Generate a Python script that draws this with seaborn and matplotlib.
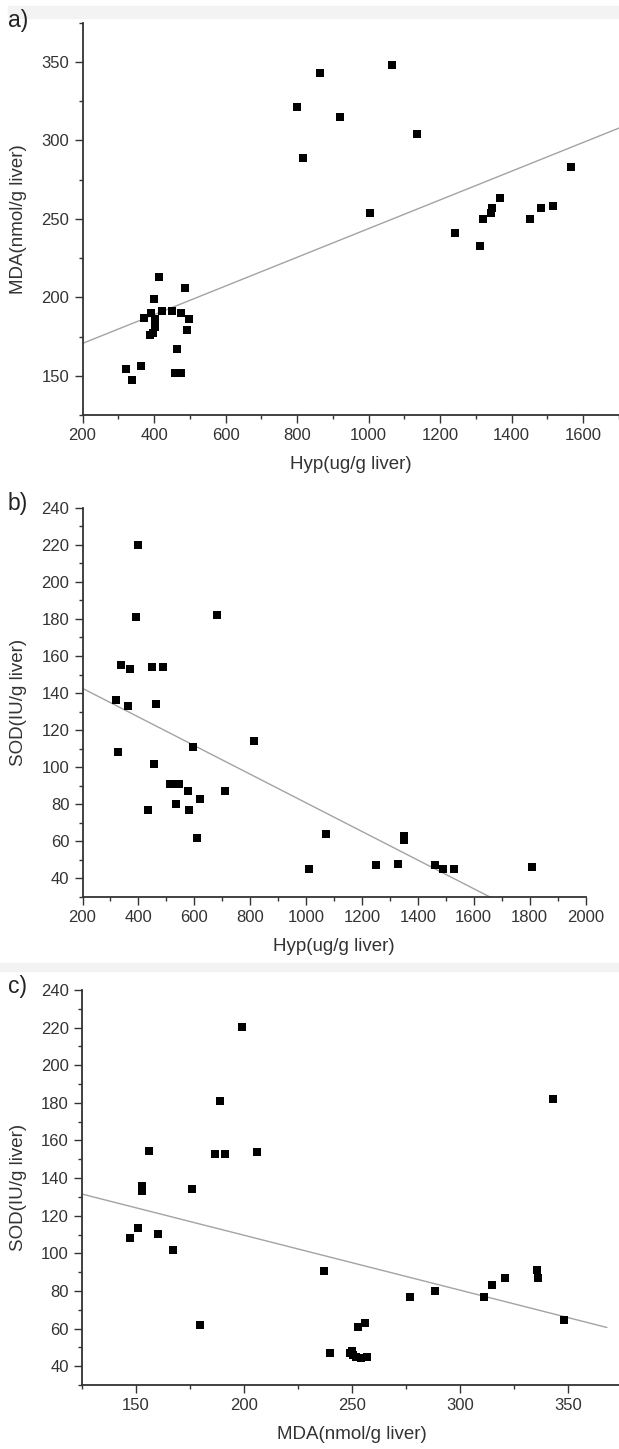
import matplotlib
matplotlib.use("Agg")
import matplotlib.pyplot as plt
from matplotlib.patches import Rectangle
from matplotlib.ticker import MultipleLocator
import numpy as np
import pandas as pd
import seaborn as sns

# panel a: Hyp vs MDA
hyp_a = [863, 1065, 799, 920, 1136, 817, 1003, 1567, 1367, 1344, 1341, 1320, 1242,
         1310, 1452, 1481, 1516, 415, 487, 400, 392, 373, 423, 449, 475, 498, 402,
         404, 397, 389, 492, 464, 363, 323, 339, 459, 476]
mda_a = [343, 348, 321, 315, 304, 289, 254, 283, 263, 257, 254, 250, 241,
         233, 250, 257, 258, 213, 206, 199, 190, 187, 191, 191, 190, 186, 186,
         181, 177, 176, 179, 167, 156, 154, 147, 152, 152]

# panel b: Hyp vs SOD
hyp_b = [400, 393, 682, 336, 370, 447, 487, 319, 362, 464, 597, 328, 813, 457, 512,
         528, 545, 576, 621, 711, 535, 435, 580, 608, 1071, 1009, 1250, 1330, 1350,
         1349, 1461, 1491, 1528, 1810]
sod_b = [220, 181, 182, 155, 153, 154, 154, 136, 133, 134, 111, 108, 114, 102, 91,
         91, 91, 87, 83, 87, 80, 77, 77, 62, 64, 45, 47, 48, 63,
         61, 47, 45, 45, 46]

# panel c: MDA vs SOD
mda_c = [199, 189, 343, 156, 186.5, 191, 206, 153, 153, 176, 151, 147, 160, 167, 237,
         335.5, 336, 321, 315, 288.5, 277, 311, 179.5, 256, 253, 348, 240, 249, 250.5,
         252, 254, 257, 250]
sod_c = [220.5, 181, 182, 154.5, 153, 153, 154, 136, 133, 134, 113.5, 108, 110.5, 102, 90.5,
         91, 87, 87, 83, 80, 77, 77, 62, 63, 61, 64.5, 47, 47, 46,
         45, 44.5, 45, 48]

# linear fits: (slope, intercept, x start, x end)
fit_a = (0.0915, 152.3, 200, 1700)
fit_b = (-0.0772, 158.0, 200, 1700)
fit_c = (-0.2919, 168.0, 125, 368)

sns.set_style("ticks")
plt.rcParams['font.family'] = ['Liberation Sans', 'DejaVu Sans']

W, H = 619, 1449
fig = plt.figure(figsize=(W / 100, H / 100), dpi=100)

# faint grey scan bands between the panels
for y0, y1, x0 in [(6, 18, 8), (963, 971, 0)]:
    fig.patches.append(Rectangle((x0 / W, 1 - y1 / H), 1, (y1 - y0) / H,
                                 transform=fig.transFigure, color="#f3f3f3", zorder=0))


def px_axes(left, top, right, bottom):
    return fig.add_axes([left / W, 1 - bottom / H, (right - left) / W, (bottom - top) / H])


def draw_panel(ax, x, y, fit, xlim, ylim, xmaj, xmin, ymaj, ymin, xlabel, ylabel, letter, letter_y, ylab_x):
    df = pd.DataFrame({"x": x, "y": y})
    slope, icpt, x0, x1 = fit
    fx = np.linspace(x0, x1, 50)
    sns.lineplot(x=fx, y=slope * fx + icpt, ax=ax, color="#a3a3a3", linewidth=1.0, zorder=1)
    sns.scatterplot(data=df, x="x", y="y", ax=ax, marker="s", color="black",
                    s=30, linewidth=0, zorder=2)
    ax.set_xlim(*xlim)
    ax.set_ylim(*ylim)
    ax.xaxis.set_major_locator(MultipleLocator(xmaj))
    ax.xaxis.set_minor_locator(MultipleLocator(xmin))
    ax.yaxis.set_major_locator(MultipleLocator(ymaj))
    ax.yaxis.set_minor_locator(MultipleLocator(ymin))
    for s in ["top", "right"]:
        ax.spines[s].set_visible(False)
    for s in ["left", "bottom"]:
        ax.spines[s].set_linewidth(1.3)
        ax.spines[s].set_color("#333333")
    ax.tick_params(which="major", length=5.5, width=1.0, color="#333333",
                   labelsize=12, labelcolor="#333333", pad=4)
    ax.tick_params(which="minor", length=3, width=1.0, color="#333333")
    ax.set_xlabel(xlabel, fontsize=13.5, color="#333333", labelpad=9)
    ax.set_ylabel(ylabel, fontsize=13.5, color="#333333")
    # ylabel right edge sits about 27 px from the figure edge
    bbox = ax.get_position()
    ax.yaxis.set_label_coords((27 / W - bbox.x0) / bbox.width, 0.5)
    ax.grid(False)
    ax.patch.set_alpha(0)
    fig.text(8 / W, 1 - letter_y / H, letter, fontsize=16.5, va="center", ha="left", color="#222222")


ax_a = px_axes(82.5, 22.7, 619, 415)
draw_panel(ax_a, hyp_a, mda_a, fit_a, (200, 1700), (125, 375), 200, 100, 50, 25,
           "Hyp(ug/g liver)", "MDA(nmol/g liver)", "a)", 20, 27)
ax_a.set_yticks([150, 200, 250, 300, 350])

ax_b = px_axes(82.5, 507.7, 585.5, 897)
draw_panel(ax_b, hyp_b, sod_b, fit_b, (200, 2000), (30, 240), 200, 100, 20, 10,
           "Hyp(ug/g liver)", "SOD(IU/g liver)", "b)", 503, 27)
ax_b.set_yticks(np.arange(40, 241, 20))

ax_c = px_axes(82, 990, 622, 1385)
draw_panel(ax_c, mda_c, sod_c, fit_c, (125, 375), (30, 240), 50, 25, 20, 10,
           "MDA(nmol/g liver)", "SOD(IU/g liver)", "c)", 987, 27)
ax_c.set_yticks(np.arange(40, 241, 20))
ax_c.set_xticks([150, 200, 250, 300, 350])

fig.savefig("out.png", dpi=100)
plt.close(fig)
